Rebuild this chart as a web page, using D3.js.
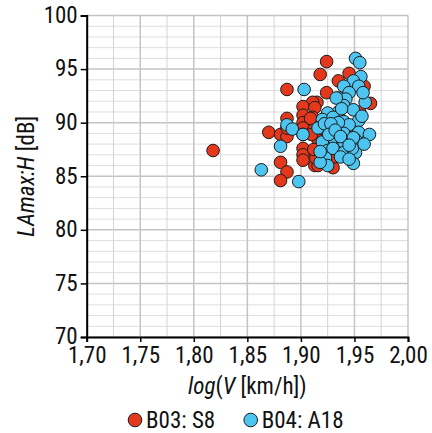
<!DOCTYPE html>
<html>
<head>
<meta charset="utf-8">
<script src="https://cdn.jsdelivr.net/npm/d3@7"></script>
<style>
  body { margin: 0; background: #fff; }
  svg text { font-family: Roboto, "Noto Sans", sans-serif; font-stretch: condensed; fill: #111; }
</style>
</head>
<body>
<svg id="chart"></svg>
<script>
// data: [log(V), LAmax:H]
const seriesB03 = [
  [1.818, 87.4], [1.887, 93.1], [1.924, 95.7], [1.918, 94.5], [1.945, 94.6],
  [1.935, 93.9], [1.959, 93.4], [1.924, 92.8], [1.965, 91.8], [1.915, 91.9],
  [1.911, 91.9], [1.902, 91.5], [1.913, 91.4], [1.902, 90.7], [1.911, 90.5],
  [1.887, 90.4], [1.902, 90.0], [1.909, 90.4], [1.870, 89.1], [1.881, 88.9],
  [1.887, 88.7], [1.902, 89.5], [1.902, 88.9], [1.902, 87.6], [1.902, 87.0],
  [1.902, 86.5], [1.913, 87.3], [1.913, 86.0], [1.881, 86.3], [1.887, 85.4],
  [1.881, 84.6], [1.912, 89.3], [1.916, 88.4], [1.918, 89.5], [1.930, 85.8],
  [1.930, 86.8], [1.916, 86.0], [1.914, 86.7], [1.910, 88.9], [1.912, 87.5],
  [1.887, 89.5], [1.930, 90.0], [1.945, 89.4], [1.936, 88.2], [1.955, 91.0]
];
const seriesB04 = [
  [1.903, 93.1], [1.951, 96.0], [1.955, 95.6], [1.956, 94.3], [1.949, 93.9],
  [1.940, 93.4], [1.954, 93.4], [1.945, 92.8], [1.935, 92.3], [1.942, 92.2],
  [1.960, 91.9], [1.940, 91.6], [1.949, 91.2], [1.935, 91.0], [1.925, 90.9],
  [1.920, 90.3], [1.930, 90.5], [1.940, 90.1], [1.954, 90.2], [1.945, 89.8],
  [1.935, 90.0], [1.925, 89.3], [1.940, 89.0], [1.954, 89.1], [1.964, 88.9],
  [1.951, 88.4], [1.940, 88.2], [1.930, 88.6], [1.920, 88.2], [1.925, 87.4],
  [1.930, 87.6], [1.940, 87.2], [1.951, 87.2], [1.948, 87.6], [1.923, 86.7],
  [1.925, 86.0], [1.949, 86.2], [1.918, 86.3], [1.887, 89.8], [1.892, 89.4],
  [1.881, 87.8], [1.902, 88.9], [1.863, 85.6], [1.898, 84.5], [1.916, 89.5],
  [1.922, 89.9], [1.928, 89.9], [1.926, 88.9], [1.932, 89.3], [1.937, 88.7],
  [1.949, 88.6], [1.945, 87.9], [1.959, 88.0], [1.937, 86.8], [1.945, 86.6],
  [1.933, 92.3], [1.958, 92.8], [1.938, 91.3], [1.957, 90.6], [1.918, 87.3]
];
const legendLabels = ['B03: S8', 'B04: A18'];
const colors = ['#e4381c', '#4ec4f0'];
const xTicks = [1.70, 1.75, 1.80, 1.85, 1.90, 1.95, 2.00];
const yTicks = [70, 75, 80, 85, 90, 95, 100];

const margin = {top: 15.5, right: 24, bottom: 96, left: 86.7};
const W = 432, H = 433;
const width = W - margin.left - margin.right;
const height = H - margin.top - margin.bottom;
const fontSize = 23;

const svgRoot = d3.select('#chart').attr('width', W).attr('height', H);
const svg = svgRoot.append('g')
    .attr('transform', `translate(${margin.left},${margin.top})`);

const x = d3.scaleLinear().domain([1.70, 2.00]).range([0, width]);
const y = d3.scaleLinear().domain([70, 100]).range([height, 0]);

// grid
const xMinor = d3.range(1.70, 2.0001, 0.025);
const yMinor = d3.range(70, 100.001, 1);

svg.append('g').selectAll('line')
    .data(yMinor)
    .join('line')
    .attr('x1', 0).attr('x2', width)
    .attr('y1', d => y(d)).attr('y2', d => y(d))
    .attr('stroke', d => Math.round(d) % 5 === 0 ? '#c4c4c4' : '#dedede')
    .attr('stroke-width', d => Math.round(d) % 5 === 0 ? 1.5 : 1);

svg.append('g').selectAll('line')
    .data(xMinor)
    .join('line')
    .attr('y1', 0).attr('y2', height)
    .attr('x1', d => x(d)).attr('x2', d => x(d))
    .attr('stroke', (d, i) => i % 2 === 0 ? '#c4c4c4' : '#d4d4d4')
    .attr('stroke-width', (d, i) => i % 2 === 0 ? 1.5 : 1);

// axes
const fmt = d => d3.format('.2f')(d).replace('.', ',');

const xAxis = svg.append('g')
    .attr('transform', `translate(0,${height})`)
    .call(d3.axisBottom(x).tickValues(xTicks).tickFormat(fmt).tickSize(5).tickPadding(5));

const yAxis = svg.append('g')
    .call(d3.axisLeft(y).tickValues(yTicks).tickSize(6).tickPadding(3));

[xAxis, yAxis].forEach(a => {
    a.select('.domain').attr('stroke', '#000').attr('stroke-width', 2);
    a.selectAll('.tick line').attr('stroke', '#000').attr('stroke-width', 1.5);
    a.selectAll('.tick text').attr('font-size', fontSize).attr('fill', '#111')
        .attr('font-family', null);
});
yAxis.selectAll('.tick text').attr('dy', '0.3em');

// points
const series = [seriesB03, seriesB04];
series.forEach((s, i) => {
    svg.append('g').selectAll('circle')
        .data(s)
        .join('circle')
        .attr('cx', d => x(d[0]))
        .attr('cy', d => y(d[1]))
        .attr('r', 6.3)
        .attr('fill', colors[i])
        .attr('stroke', '#1a1a1a')
        .attr('stroke-width', 1);
});

// axis titles
const xTitle = svg.append('text')
    .attr('x', width / 2)
    .attr('y', height + 57)
    .attr('text-anchor', 'middle')
    .attr('font-size', fontSize);
xTitle.append('tspan').attr('font-style', 'italic').text('log');
xTitle.append('tspan').text('(');
xTitle.append('tspan').attr('font-style', 'italic').text('V');
xTitle.append('tspan').text(' [km/h])');

const yTitle = svg.append('text')
    .attr('transform', 'rotate(-90)')
    .attr('x', -height / 2)
    .attr('y', -margin.left + 34)
    .attr('text-anchor', 'middle')
    .attr('font-size', fontSize);
yTitle.append('tspan').attr('font-style', 'italic').text('LAmax:H');
yTitle.append('tspan').text(' [dB]');

// legend
const legend = svgRoot.append('g').attr('transform', 'translate(135,420)');
const legendX = [0, 115.7];
legendLabels.forEach((lab, i) => {
    const g = legend.append('g').attr('transform', `translate(${legendX[i]},0)`);
    g.append('circle').attr('r', 6.8).attr('fill', colors[i])
        .attr('stroke', '#1a1a1a').attr('stroke-width', 1);
    g.append('text').attr('x', 11).attr('y', 0).attr('dy', '0.35em')
        .attr('font-size', fontSize).text(lab);
});
</script>
</body>
</html>
